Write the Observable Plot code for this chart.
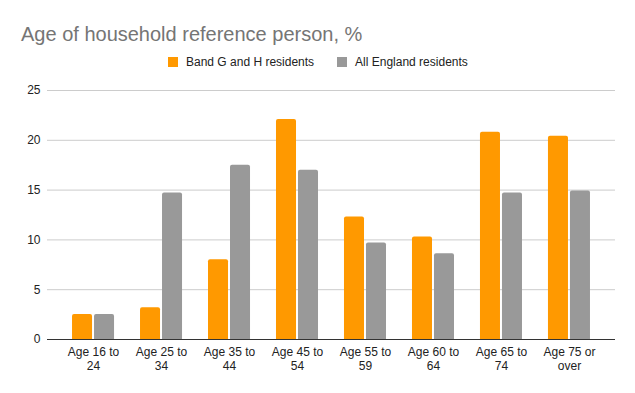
<!DOCTYPE html>
<html>
<head>
<meta charset="utf-8">
<script src="https://cdn.jsdelivr.net/npm/d3@7"></script>
<script src="https://cdn.jsdelivr.net/npm/@observablehq/plot@0.6"></script>
<style>
  html, body { margin: 0; padding: 0; background: #fff; }
  body { width: 635px; height: 393px; position: relative; overflow: hidden; font-family: "Liberation Sans", Arial, sans-serif; }
  #title { position: absolute; left: 21px; top: 24px; font-size: 20px; line-height: 20px; color: #757575; white-space: nowrap; }
  #legend { position: absolute; left: 168px; top: 55px; height: 14px; display: flex; align-items: center; font-size: 12px; color: #222; white-space: nowrap; }
  .item { display: flex; align-items: center; margin-right: 23px; }
  .sw { width: 10px; height: 10px; margin-right: 8px; }
  #chart { position: absolute; left: 0; top: 75px; }
</style>
</head>
<body>
<div id="title">Age of household reference person, %</div>
<div id="legend"></div>
<div id="chart"></div>
<script>
const categories = ["Age 16 to 24", "Age 25 to 34", "Age 35 to 44", "Age 45 to 54", "Age 55 to 59", "Age 60 to 64", "Age 65 to 74", "Age 75 or over"];
const seriesNames = ["Band G and H residents", "All England residents"];
const seriesColors = ["#ff9900", "#999999"];
const bandGH = [2.5, 3.2, 8.0, 22.1, 12.3, 10.3, 20.8, 20.4];
const allEngland = [2.5, 14.7, 17.5, 17.0, 9.7, 8.6, 14.7, 14.9];
const yTicks = [0, 5, 10, 15, 20, 25];

const rowsGH = categories.map((c, i) => ({category: c, value: bandGH[i]}));
const rowsEng = categories.map((c, i) => ({category: c, value: allEngland[i]}));

// legend
const legend = document.getElementById("legend");
seriesNames.forEach((name, i) => {
  const item = document.createElement("div");
  item.className = "item";
  const sw = document.createElement("div");
  sw.className = "sw";
  sw.style.background = seriesColors[i];
  const t = document.createElement("span");
  t.textContent = name;
  item.appendChild(sw);
  item.appendChild(t);
  legend.appendChild(item);
});

const chart = Plot.plot({
  width: 635,
  height: 318,
  marginLeft: 47,
  marginRight: 20,
  marginTop: 15,
  marginBottom: 54,
  style: {fontFamily: "'Liberation Sans', Arial, sans-serif", fontSize: "12px", color: "#222", background: "#fff"},
  x: {domain: categories, paddingInner: 0.382, paddingOuter: 0.368, round: false, label: null},
  y: {domain: [0, 25], label: null},
  marks: [
    Plot.gridY(yTicks, {stroke: "#cccccc", strokeOpacity: 1}),
    Plot.barY(rowsGH, {x: "category", y: "value", fill: seriesColors[0], insetRight: 22, ry1: 2}),
    Plot.barY(rowsEng, {x: "category", y: "value", fill: seriesColors[1], insetLeft: 22, ry1: 2}),
    Plot.ruleY([0], {stroke: "#333333", strokeWidth: 1}),
    Plot.axisY(yTicks, {tickSize: 0, tickPadding: 7, label: null, fill: "#222", fontSize: 12}),
    Plot.axisX({tickSize: 0, tickPadding: 6, label: null, fill: "#222", fontSize: 12, lineHeight: 1.2,
      tickFormat: d => d.replace(/ (\S+)$/, "\n$1")})
  ]
});
document.getElementById("chart").appendChild(chart);
</script>
</body>
</html>
